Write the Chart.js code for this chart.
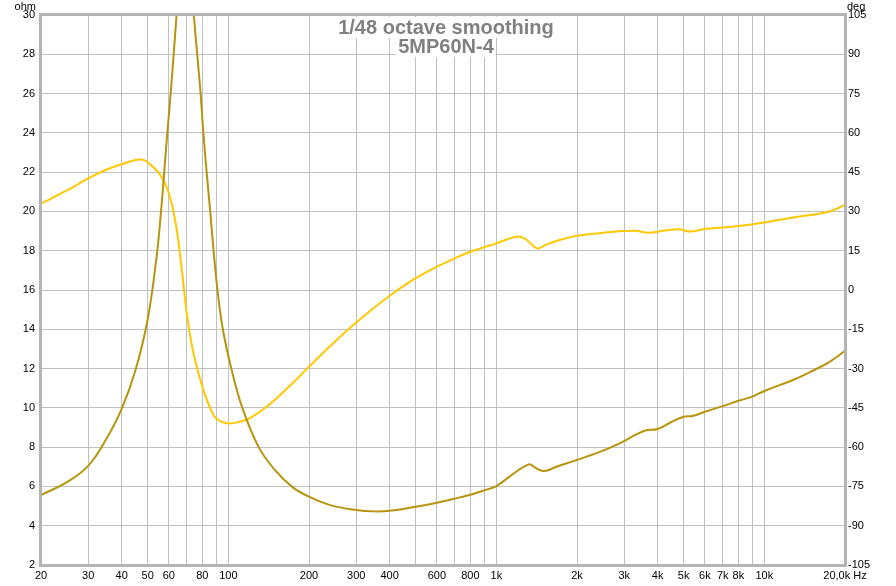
<!DOCTYPE html>
<html>
<head>
<meta charset="utf-8">
<script src="https://cdn.jsdelivr.net/npm/chart.js@4.4.1/dist/chart.umd.min.js"></script>
<style>
  html, body { margin: 0; padding: 0; background: #fff; }
  #c { display: block; }
</style>
</head>
<body>
<canvas id="c" width="896" height="586"></canvas>
<script>
// impedance magnitude (ohm), left axis
const impFreq = [20, 25, 30, 35, 40, 45, 50, 54, 56.1, 57.5, 59.2, 61.1, 64.1, 66, 68, 69.5, 71, 72.5, 74.3,
  78.6, 80.7, 83, 85.6, 88.1, 91.1, 95.4, 102.6, 112.8, 129.8, 150, 174,
  200, 240, 300, 350, 400, 500, 600, 700, 800, 900, 1000, 1120, 1200, 1300, 1340, 1400, 1480, 1550, 1674, 2000,
  2500, 3000, 3300, 3600, 4000, 4500, 5000, 5400, 6000, 7000, 8000, 9000, 10000, 12800, 14900, 17400, 20000];
const impOhm = [5.56, 6.22, 7.05, 8.4, 9.95, 11.9, 14.5, 17.7, 20.0, 21.8, 24.0, 26.2, 30.0, 32.3, 34.2, 35.0, 34.0, 32.0, 30.0,
  26.2, 24.0, 22.0, 20.0, 18.0, 16.0, 14.0, 12.0, 10.0, 8.0, 6.8, 5.95,
  5.48, 5.05, 4.80, 4.73, 4.76, 4.97, 5.17, 5.38, 5.58, 5.80, 6.02, 6.50, 6.80, 7.08, 7.12, 6.95, 6.80, 6.81, 7.0, 7.35,
  7.82, 8.31, 8.62, 8.85, 8.92, 9.28, 9.55, 9.59, 9.80, 10.09, 10.36, 10.57, 10.86, 11.42, 11.84, 12.32, 12.9];

// impedance phase (deg), right axis
const phaseFreq = [20, 25, 30, 35, 40, 45, 48, 50, 55.7, 60, 63.6, 66.4, 70, 73.7, 80, 85.6, 90, 98.6, 110.5, 120, 138.9, 170.8,
  200, 240, 300, 400, 500, 600, 700, 800, 900, 1000, 1100, 1210, 1300, 1420, 1540, 1674, 2000, 2440, 3000, 3300, 3700,
  4200, 4800, 5300, 6000, 7000, 8000, 10000, 12800, 17400, 20000];
const phaseDeg = [33.0, 38.0, 42.6, 45.9, 48.0, 49.6, 49.7, 48.8, 43.9, 36.9, 25.5, 11.5, -8.9, -22.9, -36.9, -45.2, -49.0, -50.9, -50.3, -49.0, -44.6, -36.3,
  -29.3, -21.4, -12.4, -2.2, 4.5, 8.9, 12.1, 14.6, 16.3, 17.8, 19.4, 20.4, 19.1, 15.9, 17.4, 18.7, 20.7, 21.7, 22.5, 22.6, 21.9,
  22.6, 23.2, 22.3, 23.3, 23.9, 24.4, 25.8, 27.7, 29.9, 32.5];

// frequency grid lines and their labels
const xGrid = [20, 30, 40, 50, 60, 70, 80, 90, 100, 200, 300, 400, 500, 600, 700, 800, 900,
  1000, 2000, 3000, 4000, 5000, 6000, 7000, 8000, 9000, 10000, 20000];
const xLabels = {20: '20', 30: '30', 40: '40', 50: '50', 60: '60', 80: '80', 100: '100', 200: '200', 300: '300',
  400: '400', 600: '600', 800: '800', 1000: '1k', 2000: '2k', 3000: '3k', 4000: '4k', 5000: '5k', 6000: '6k',
  7000: '7k', 8000: '8k', 10000: '10k', 20000: '20,0k Hz'};

const titleLines = ['1/48 octave smoothing', '5MP60N-4'];

const FONT = '"Liberation Sans", Arial, sans-serif';

const framePlugin = {
  id: 'frame',
  afterDraw(chart) {
    const ctx = chart.ctx;
    const a = chart.chartArea;
    ctx.save();
    // frame
    ctx.strokeStyle = '#b4b4b4';
    ctx.lineWidth = 3;
    ctx.strokeRect(a.left - 0.5, a.top - 0.5, a.right - a.left + 1, a.bottom - a.top + 1);
    // unit labels
    ctx.fillStyle = '#000';
    ctx.font = '11px ' + FONT;
    ctx.textBaseline = 'top';
    ctx.textAlign = 'right';
    ctx.fillText('ohm', a.left - 5, 1);
    ctx.textAlign = 'left';
    ctx.fillText('deg', a.right + 2, 1);
    // title
    ctx.font = 'bold 20px ' + FONT;
    ctx.textAlign = 'center';
    ctx.textBaseline = 'alphabetic';
    const cx = (a.left + a.right) / 2 + 3;
    const base = [34, 53];
    titleLines.forEach((t, i) => {
      const w = ctx.measureText(t).width;
      ctx.fillStyle = '#fff';
      ctx.fillRect(cx - w / 2 - 2, base[i] - 17, w + 4, 21);
    });
    titleLines.forEach((t, i) => {
      ctx.fillStyle = '#808080';
      ctx.fillText(t, cx, base[i]);
    });
    ctx.restore();
  }
};

new Chart(document.getElementById('c'), {
  type: 'line',
  data: {
    datasets: [
      {
        label: 'Impedance',
        data: impFreq.map((f, i) => ({x: f, y: impOhm[i]})),
        borderColor: '#b8940c',
        borderWidth: 2,
        pointRadius: 0,
        tension: 0.4,
        xAxisID: 'x',
        yAxisID: 'y'
      },
      {
        label: 'Phase',
        data: phaseFreq.map((f, i) => ({x: f, y: phaseDeg[i]})),
        borderColor: '#ffc800',
        borderWidth: 2,
        pointRadius: 0,
        tension: 0.4,
        xAxisID: 'x',
        yAxisID: 'y1'
      }
    ]
  },
  options: {
    responsive: false,
    animation: false,
    layout: { padding: { top: 15, left: 0, right: 0, bottom: 0 } },
    plugins: {
      legend: { display: false },
      title: { display: false },
      tooltip: { enabled: false }
    },
    scales: {
      x: {
        type: 'logarithmic',
        min: 20,
        max: 20000,
        afterBuildTicks: (scale) => { scale.ticks = xGrid.map(v => ({value: v})); },
        afterFit: (scale) => { scale.height = 21; },
        ticks: {
          autoSkip: false,
          maxRotation: 0,
          padding: 4,
          color: '#000',
          font: { size: 11, family: FONT },
          callback: (v) => xLabels[v] || ''
        },
        grid: { color: '#c0c0c0', drawTicks: false },
        border: { display: false }
      },
      y: {
        position: 'left',
        min: 2,
        max: 30,
        afterFit: (scale) => { scale.width = 41; },
        ticks: {
          stepSize: 2,
          padding: 6,
          color: '#000',
          font: { size: 11, family: FONT }
        },
        grid: { color: '#c0c0c0', drawTicks: false },
        border: { display: false }
      },
      y1: {
        position: 'right',
        min: -105,
        max: 105,
        afterFit: (scale) => { scale.width = 51; },
        ticks: {
          stepSize: 15,
          padding: 3,
          color: '#000',
          font: { size: 11, family: FONT }
        },
        grid: { display: false, drawTicks: false },
        border: { display: false }
      }
    }
  },
  plugins: [framePlugin]
});
</script>
</body>
</html>
